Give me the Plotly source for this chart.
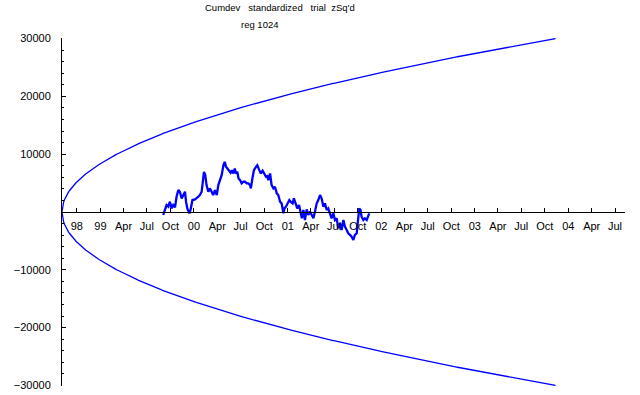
import pandas as pd
import numpy as np
import plotly.graph_objects as go

# ---- data ----
origin_date = "1998-08-04"          # day 0 of the run
tick_dates = ["1998-10-01", "1999-01-01", "1999-04-01", "1999-07-01", "1999-10-01",
              "2000-01-01", "2000-04-01", "2000-07-01", "2000-10-01",
              "2001-01-01", "2001-04-01", "2001-07-01", "2001-10-01",
              "2002-01-01", "2002-04-01", "2002-07-01", "2002-10-01",
              "2003-01-01", "2003-04-01", "2003-07-01", "2003-10-01",
              "2004-01-01", "2004-04-01", "2004-07-01"]
tick_labels = ["98", "99", "Apr", "Jul", "Oct", "00", "Apr", "Jul", "Oct",
               "01", "Apr", "Jul", "Oct", "02", "Apr", "Jul", "Oct",
               "03", "Apr", "Jul", "Oct", "04", "Apr", "Jul"]

walk_days = [395, 402, 408, 415, 421, 428, 434, 441, 447, 454, 460, 467, 473, 480,
             484, 489, 497, 502, 509, 519, 532, 538, 545, 549, 554, 559, 564, 571,
             577, 584, 590, 597, 604, 610, 617, 623, 630, 635, 640, 645, 653, 658,
             663, 669, 674, 679, 684, 689, 695, 701, 708, 714, 721, 727, 734, 737,
             743, 749, 757, 762, 770, 776, 783, 789, 796, 801, 805, 812, 818, 825,
             831, 838, 844, 851, 857, 864, 868, 874, 879, 887, 892, 900, 905, 913,
             918, 925, 931, 936, 942, 948, 955, 961, 968, 974, 981, 987, 994, 1000,
             1007, 1013, 1020, 1026, 1033, 1039, 1046, 1052, 1059, 1065, 1072, 1078,
             1085, 1091, 1098, 1104, 1111, 1117, 1124, 1130, 1137, 1143, 1150, 1156,
             1160, 1165, 1169, 1176, 1182, 1189, 1195, 1199]
walk_values = [-517, 632, 1207, 919, 1781, 632, 1207, 805, 2643, 3793, 3505, 2356,
               2931, 3505, 1781, 632, -230, 460, 2069, 2184, 2643, 2931, 3505, 5229,
               6953, 6379, 4655, 3505, 4080, 3505, 2931, 3793, 2931, 4655, 5517, 6379,
               8103, 8677, 7815, 7528, 7241, 6781, 7241, 6666, 7528, 6666, 6953, 5804,
               5517, 4942, 5229, 5229, 4942, 4942, 4655, 4080, 5804, 7241, 7815, 8103,
               7241, 6666, 7126, 6551, 6091, 6206, 5517, 6666, 4655, 4080, 4367, 3218,
               2931, 1781, 1494, -230, 632, 919, 1494, 2069, 1781, 1494, 2356, 1207,
               632, 1207, 57, -1092, 345, -1379, 460, -517, 57, -517, -1092, 57, 1494,
               2069, 2931, 2356, 919, 1494, 345, 632, -517, -1092, -230, -1379, -1092,
               -2816, -1954, -3103, -1379, -2529, -3103, -3678, -3965, -4253, -4827,
               -3965, -3678, -1379, 632, 345, -805, -1379, -1092, -1379, -805, -230]

envelope_end_day = 1926      # where the envelope reaches +-30000
envelope_end_value = 30000

# ---- build ----
origin = pd.Timestamp(origin_date)
tickvals = [(pd.Timestamp(d) - origin).days for d in tick_dates]

env_days = np.linspace(0, envelope_end_day, 600)
env_up = envelope_end_value * np.sqrt(env_days / envelope_end_day)

blue = "#0000FF"
fig = go.Figure()
fig.add_trace(go.Scatter(x=env_days, y=env_up, mode="lines",
                         line=dict(color=blue, width=1.3), hoverinfo="skip"))
fig.add_trace(go.Scatter(x=env_days, y=-env_up, mode="lines",
                         line=dict(color=blue, width=1.3), hoverinfo="skip"))
fig.add_trace(go.Scatter(x=walk_days, y=walk_values, mode="lines",
                         line=dict(color=blue, width=2.3)))

font = dict(family="Liberation Sans, Arial, sans-serif", size=11, color="black")
title_font = dict(family="Liberation Sans, Arial, sans-serif", size=9.5, color="black")

L, R, T, B = 62, 15, 38, 9
W, H = 640, 395
pw, ph = W - L - R, H - T - B

fig.update_layout(
    width=W, height=H,
    margin=dict(l=L, r=R, t=T, b=B, autoexpand=False),
    paper_bgcolor="white", plot_bgcolor="white",
    showlegend=False,
    font=font,
    xaxis=dict(range=[0, 2197], tickvals=tickvals, ticktext=tick_labels,
               showgrid=False, zeroline=False, showline=True, linecolor="black",
               linewidth=1, ticks="inside", ticklen=4, tickcolor="black",
               anchor="free", position=0.5, ticklabelstandoff=4, automargin=False),
    yaxis=dict(range=[-30100, 30100], tickvals=[-30000, -20000, -10000, 10000, 20000, 30000],
               ticktext=["\u221230000", "\u221220000", "\u221210000", "10000", "20000", "30000"],
               showgrid=False, zeroline=False, showline=True, linecolor="black",
               linewidth=1, ticks="inside", ticklen=4, tickcolor="black",
               ticklabelstandoff=8, automargin=False,
               minor=dict(dtick=2000, tick0=0, ticks="inside", ticklen=2,
                          tickcolor="black", showgrid=False)),
)
fig.add_annotation(text="Cumdev   standardized   trial  zSq'd",
                   xref="paper", yref="paper",
                   x=(280 - L) / pw, y=1 + (T - 8) / ph,
                   xanchor="center", yanchor="middle", showarrow=False, font=title_font)
fig.add_annotation(text="reg 1024",
                   xref="paper", yref="paper",
                   x=(260 - L) / pw, y=1 + (T - 24) / ph,
                   xanchor="center", yanchor="middle", showarrow=False, font=title_font)

fig.write_html("out.html", config={"displayModeBar": False},
               post_script="document.body.style.margin='0';document.body.style.padding='0';")
